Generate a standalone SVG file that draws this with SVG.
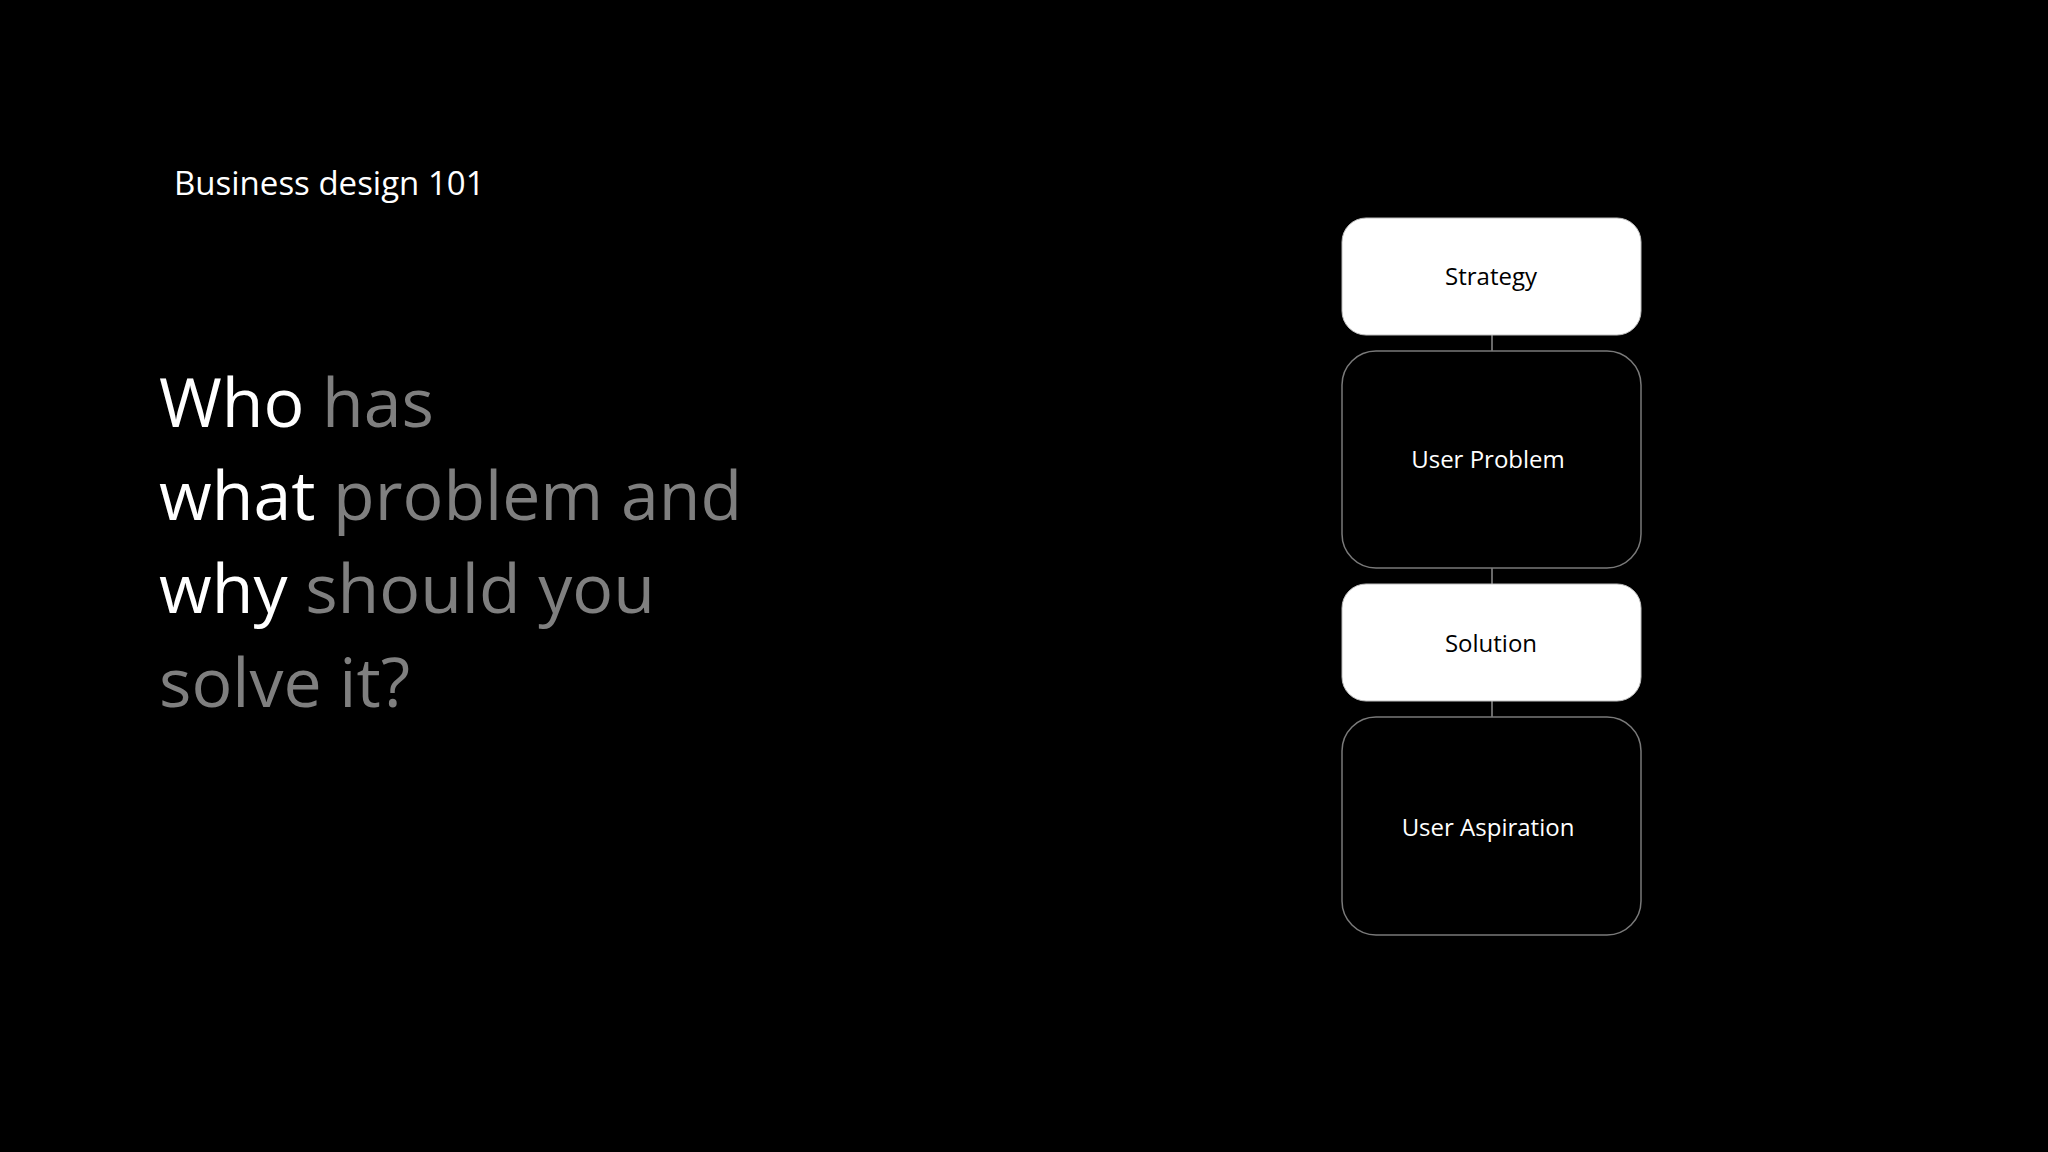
<svg xmlns="http://www.w3.org/2000/svg" width="2048" height="1152" viewBox="0 0 2048 1152">
<style>
.bg{fill:#000}
.w{fill:#ffffff}
.g{fill:#7f7f7f}
.head{font-family:"Open Sans","Liberation Sans",sans-serif;font-size:33px}
.big{font-family:"Open Sans","Liberation Sans",sans-serif;font-size:68px}
.lbl{font-family:"Open Sans","Liberation Sans",sans-serif;font-size:24px;text-anchor:middle}
.boxw{fill:#ffffff;stroke:#bfbfbf;stroke-width:1}
.boxb{fill:#000000;stroke:#7a7a7a;stroke-width:1.5}
.conn{stroke:#8c8c8c;stroke-width:1.5;fill:none}
</style>
<rect class="bg" x="0" y="0" width="2048" height="1152"/>
<text class="head w" x="174" y="195">Business design 101</text>
<g id="question">
<text class="big" x="159" y="427"><tspan class="w">Who </tspan><tspan class="g">has</tspan></text>
<text class="big" x="159" y="520"><tspan class="w">what </tspan><tspan class="g">problem and</tspan></text>
<text class="big" x="159" y="613"><tspan class="w">why </tspan><tspan class="g">should you</tspan></text>
<text class="big g" x="159" y="707">solve it?</text>
</g>
<g id="connectors">
<line class="conn" x1="1492" y1="335" x2="1492" y2="351"/>
<line class="conn" x1="1492" y1="568" x2="1492" y2="584"/>
<line class="conn" x1="1492" y1="701" x2="1492" y2="717"/>
</g>
<g id="strategy">
<rect class="boxw" x="1342" y="218" width="299" height="117" rx="24"/>
<text class="lbl" x="1491" y="285" fill="#000">Strategy</text>
</g>
<g id="user-problem">
<rect class="boxb" x="1342" y="351" width="299" height="217" rx="34"/>
<text class="lbl w" x="1488" y="468">User Problem</text>
</g>
<g id="solution">
<rect class="boxw" x="1342" y="584" width="299" height="117" rx="24"/>
<text class="lbl" x="1491" y="652" fill="#000">Solution</text>
</g>
<g id="user-aspiration">
<rect class="boxb" x="1342" y="717" width="299" height="218" rx="34"/>
<text class="lbl w" x="1488" y="836">User Aspiration</text>
</g>
</svg>
